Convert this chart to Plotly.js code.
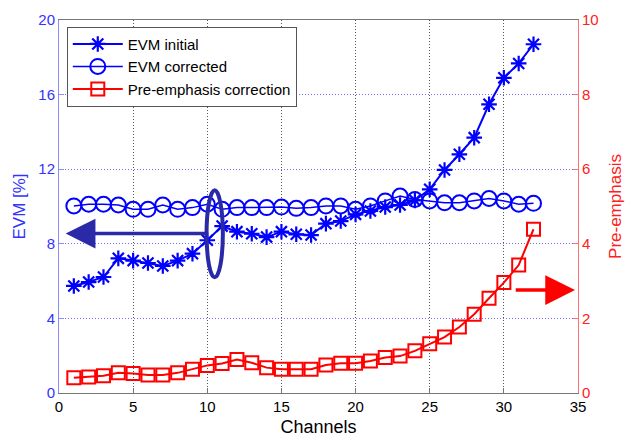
<!DOCTYPE html>
<html>
<head>
<meta charset="utf-8">
<script src="https://cdn.plot.ly/plotly-3.0.1.min.js"></script>
<style>html,body{margin:0;padding:0;background:#fff;}#chart{width:625px;height:437px;}</style>
</head>
<body>
<div id="chart"></div>
<script>
const channels = [1,2,3,4,5,6,7,8,9,10,11,12,13,14,15,16,17,18,19,20,21,22,23,24,25,26,27,28,29,30,31,32];
const evmInitial = [5.74,5.95,6.22,7.22,7.1,6.97,6.81,7.1,7.47,8.19,8.95,8.65,8.54,8.36,8.65,8.51,8.47,9.08,9.22,9.58,9.76,9.97,10.08,10.33,10.92,11.96,12.8,13.69,15.48,16.9,17.67,18.7];
const evmCorrected = [10.03,10.12,10.12,10.08,9.85,9.85,10.08,9.85,9.94,10.12,9.85,9.94,9.94,9.94,9.97,9.9,9.94,10.03,10.03,9.85,10.03,10.3,10.56,10.38,10.3,10.2,10.2,10.3,10.43,10.3,10.12,10.17];
const preEmphasis = [0.41,0.43,0.46,0.54,0.52,0.48,0.48,0.54,0.64,0.74,0.79,0.9,0.81,0.68,0.64,0.64,0.64,0.75,0.8,0.8,0.86,0.95,0.99,1.13,1.32,1.5,1.77,2.11,2.54,2.96,3.43,4.39];
const xTicks = [0,5,10,15,20,25,30,35];
const yTicks = [0,4,8,12,16,20];
const y2Ticks = [0,2,4,6,8,10];

const FONT = 'Arial, "Liberation Sans", sans-serif';
const traces = [
  {x: channels, y: evmInitial, name: 'EVM initial', mode: 'lines+markers',
   line: {color: '#0000ff', width: 2},
   marker: {symbol: 'asterisk-open', size: 13, line: {color: '#0000ff', width: 2.2}}},
  {x: channels, y: evmCorrected, name: 'EVM corrected', mode: 'lines+markers',
   line: {color: '#0000ff', width: 1.5},
   marker: {symbol: 'circle-open', size: 15, color: '#0000ff', line: {color: '#0000ff', width: 2}}},
  {x: channels, y: preEmphasis, name: 'Pre-emphasis correction', mode: 'lines+markers', yaxis: 'y2',
   line: {color: '#ff0000', width: 2},
   marker: {symbol: 'square-open', size: 13, color: '#ff0000', line: {color: '#ff0000', width: 2}}}
];

const layout = {
  width: 625, height: 437,
  margin: {l: 59, r: 47, t: 20, b: 44},
  paper_bgcolor: '#fff', plot_bgcolor: '#fff',
  font: {family: FONT, size: 15, color: '#000'},
  showlegend: true,
  legend: {x: 0.015, y: 0.982, xanchor: 'left', yanchor: 'top',
    bgcolor: '#fff', bordercolor: '#555', borderwidth: 1,
    font: {family: FONT, size: 15, color: '#000'}, tracegroupgap: 0, itemwidth: 50},
  xaxis: {range: [0, 35], tickvals: xTicks, ticktext: xTicks.map(String),
    showline: true, linecolor: '#777', linewidth: 1, mirror: true,
    ticks: 'inside', ticklen: 5, tickcolor: '#777',
    showgrid: true, gridcolor: '#555', griddash: '1px,2px', gridwidth: 1,
    zeroline: false, tickfont: {size: 15, color: '#000'},
    title: {text: 'Channels', font: {size: 18, color: '#000'}, standoff: 6}},
  yaxis: {range: [0, 20], tickvals: yTicks, ticktext: yTicks.map(String),
    showline: true, linecolor: '#8c8cff', linewidth: 1,
    ticks: 'inside', ticklen: 5, tickcolor: '#8c8cff',
    showgrid: true, gridcolor: '#7070ff', griddash: '1px,2px', gridwidth: 1,
    zeroline: false, tickfont: {size: 15, color: '#3333ff'},
    title: {text: 'EVM [%]', font: {size: 17, color: '#3333ff'}, standoff: 8}},
  yaxis2: {range: [0, 10], tickvals: y2Ticks, ticktext: y2Ticks.map(String),
    overlaying: 'y', side: 'right',
    showline: true, linecolor: '#ff7070', linewidth: 1,
    ticks: 'inside', ticklen: 5, tickcolor: '#ff7070',
    showgrid: false, zeroline: false, tickfont: {size: 15, color: '#ff2020'},
    title: {text: 'Pre-emphasis', font: {size: 17, color: '#ff2020'}, standoff: 14}},
  shapes: [
    {type: 'circle', xref: 'x', yref: 'y', x0: 9.95, x1: 11.05, y0: 6.2, y1: 10.87,
     line: {color: '#2a2aa8', width: 4}}
  ],
  annotations: [
    {xref: 'x', yref: 'y', axref: 'x', ayref: 'y', x: 0.45, y: 8.55, ax: 10.1, ay: 8.55,
     showarrow: true, arrowhead: 2, arrowsize: 1.7, arrowwidth: 3.5, arrowcolor: '#2a2aa8', text: ''},
    {xref: 'x', yref: 'y2', axref: 'x', ayref: 'y2', x: 34.8, y: 2.76, ax: 30.7, ay: 2.76,
     showarrow: true, arrowhead: 2, arrowsize: 1.7, arrowwidth: 3.5, arrowcolor: '#ff0000', text: ''}
  ]
};

Plotly.newPlot('chart', traces, layout, {staticPlot: true, displayModeBar: false});
</script>
</body>
</html>
